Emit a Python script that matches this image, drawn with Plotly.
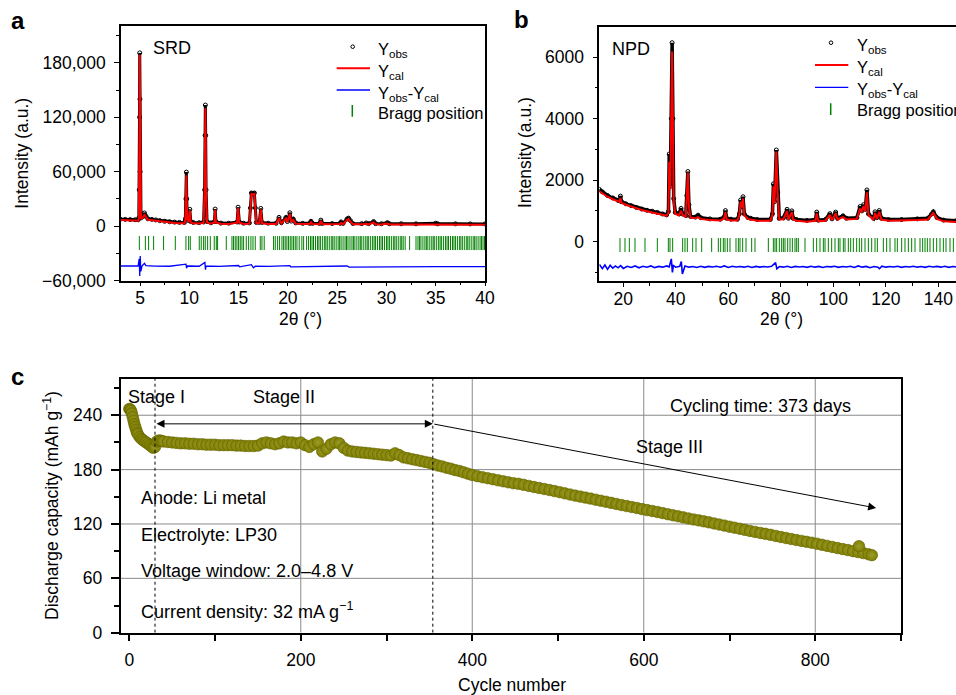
import plotly.graph_objects as go

W, H = 956, 695
FONT = "Liberation Sans, Arial, Helvetica, sans-serif"

# ---------------- Panel a: SRD ----------------
srd_x = [3.0, 3.5, 4.0, 4.5, 4.8, 4.88, 4.92, 4.95, 4.97, 4.99,
         5.01, 5.04, 5.1, 5.3, 5.45, 5.6, 5.8, 6.2, 6.6, 7.0,
         7.5, 8.0, 8.5, 9.0, 9.5, 9.6, 9.66, 9.7, 9.74, 9.8,
         9.95, 10.05, 10.15, 10.4, 11.0, 11.45, 11.55, 11.6, 11.63, 11.66,
         11.7, 11.8, 12.2, 12.55, 12.62, 12.7, 13.2, 14.0, 14.85, 14.95,
         15.08, 15.5, 16.1, 16.2, 16.3, 16.45, 16.6, 16.7, 16.8, 17.1,
         17.25, 17.38, 18.0, 18.8, 19.1, 19.35, 19.8, 19.95, 20.2, 20.35,
         20.55, 20.8, 21.5, 22.2, 22.35, 22.5, 23.2, 23.35, 23.5, 24.5,
         25.3, 25.4, 25.6, 26.0, 26.15, 26.35, 26.6, 27.5, 27.95, 28.2,
         28.7, 28.9, 29.5, 30.1, 30.3, 31.5, 33.0, 35.0, 35.2, 37.0,
         38.5, 40.0]
srd_obs = [7600, 7400, 7200, 7000, 6900, 9000, 40000, 120000, 191000, 140000,
           60000, 15000, 9000, 10500, 14500, 11000, 8000, 7400, 6800, 6000,
           5300, 4800, 4400, 4100, 4000, 8000, 30000, 59500, 30000, 8000,
           6000, 18500, 5000, 4000, 3800, 4500, 40000, 100000, 133500, 100000,
           40000, 5000, 3600, 5000, 18800, 5000, 3300, 3200, 4500, 20800,
           4500, 3200, 3500, 20000, 36500, 36000, 36500, 20000, 4000, 4000,
           19500, 4000, 3200, 3100, 9600, 3800, 9500, 5000, 14700, 5500,
           7800, 3500, 3000, 3000, 5300, 3000, 2900, 6600, 2900, 2800,
           3000, 4600, 3000, 7800, 8800, 6000, 2800, 2700, 3500, 2700,
           5000, 2700, 2600, 3800, 2600, 2600, 2500, 3200, 2500, 2500,
           2400, 2400]
srd_cal = [6700, 6500, 6300, 6100, 6000, 8000, 38000, 118000, 189000, 138000,
           58000, 13000, 8000, 9500, 13000, 10000, 7000, 6400, 5800, 5000,
           4300, 3800, 3400, 3100, 3000, 7000, 28000, 56000, 28000, 7000,
           5000, 17500, 4000, 3000, 2800, 3500, 38000, 98000, 130000, 98000,
           38000, 4000, 2600, 4000, 18000, 4000, 2500, 2400, 3700, 20000,
           3700, 2400, 2700, 19000, 35500, 35000, 35500, 19000, 3200, 3200,
           18500, 3200, 2400, 2300, 8600, 3000, 8500, 4200, 13500, 4700,
           6800, 2700, 2200, 2200, 4300, 2200, 2100, 5600, 2100, 2000,
           2200, 3600, 2200, 6800, 7800, 5000, 2000, 1900, 2600, 1900,
           4000, 1900, 1800, 2800, 1800, 1800, 1700, 2300, 1700, 1700,
           1600, 1600]
srd_diff_x = [3.0, 4.0, 4.8, 4.92, 4.97, 5.02, 5.08, 5.2, 5.45, 5.6,
              6.5, 8.0, 9.66, 9.72, 9.8, 11.0, 11.58, 11.64, 11.7, 13.0,
              15.0, 15.1, 16.3, 16.5, 16.7, 18.0, 20.2, 20.3, 22.0, 26.0,
              26.2, 30.0, 35.0, 40.0]
srd_diff_y = [-44000, -44300, -44000, -36000, -55000, -33000, -50000, -44000, -41000, -43500,
              -44200, -44300, -42000, -46500, -44000, -44300, -40000, -48000, -44000, -44500,
              -43500, -45000, -42500, -46000, -44200, -44500, -43500, -45000, -44600, -44000,
              -45200, -44700, -44700, -44800]
srd_bragg = [4.93, 5.54, 5.87, 6.38, 7.39, 8.58, 9.66, 9.93, 10.1, 11.01,
             11.21, 11.45, 11.62, 11.86, 12.13, 12.53, 12.74, 12.87, 13.75, 14.33,
             14.49, 14.66, 14.83, 15.0, 15.17, 15.34, 15.51, 15.78, 16.02, 16.25,
             16.46, 16.69, 17.2, 17.37, 17.6, 18.55, 18.72, 18.96, 19.16, 19.4,
             19.57, 19.73, 19.9, 20.07, 20.24, 20.41, 20.58, 20.75, 20.92, 21.15,
             21.42, 21.6, 21.9, 22.1, 22.3, 22.45, 22.6, 22.8, 23.0, 23.15,
             23.3, 23.5, 23.7, 23.85, 24.0, 24.2, 24.4, 24.55, 24.7, 24.9,
             25.1, 25.25, 25.4, 25.6, 25.8, 25.95, 26.1, 26.3, 26.5, 26.65,
             26.8, 27.0, 27.2, 27.35, 27.5, 27.7, 27.9, 28.05, 28.2, 28.4,
             28.6, 28.75, 28.9, 29.1, 29.3, 29.45, 29.6, 29.8, 30.0, 30.15,
             30.3, 30.5, 30.7, 30.85, 31.0, 31.2, 31.4, 31.55, 31.7, 31.9,
             32.35, 33.0, 33.2, 33.35, 33.5, 33.7, 33.9, 34.05, 34.2, 34.4,
             34.6, 34.75, 34.9, 35.1, 35.3, 35.45, 35.6, 35.8, 36.0, 36.15,
             36.3, 36.5, 36.7, 36.85, 37.0, 37.2, 37.4, 37.55, 37.7, 37.9,
             38.1, 38.25, 38.4, 38.6, 38.8, 38.95, 39.1, 39.3, 39.5, 39.65,
             39.8, 39.95]
srd_bragg_level = -18700
srd_yticks = [-60000, 0, 60000, 120000, 180000]
srd_yticktext = ["\u221260,000", "0", "60,000", "120,000", "180,000"]
srd_xticks = [5, 10, 15, 20, 25, 30, 35, 40]

# ---------------- Panel b: NPD ----------------
npd_x = [10.86, 12, 14, 16, 18, 18.6, 18.9, 19.3, 21, 23,
         25, 27, 29, 31, 33, 35, 36.5, 37.2, 37.5, 37.9,
         38.3, 38.6, 38.9, 39.2, 39.8, 41.2, 42.0, 42.6, 43.8, 44.2,
         44.6, 45.0, 45.6, 47.5, 48.5, 49.5, 53, 57, 58.4, 58.9,
         59.4, 61, 63.5, 64.2, 64.7, 65.1, 65.6, 66.1, 67.5, 68.5,
         71, 76, 76.8, 77.2, 77.6, 78.3, 78.8, 79.4, 81, 82.4,
         82.9, 84.2, 84.7, 86, 90, 93.2, 93.7, 94.3, 97, 98.7,
         99.5, 100.9, 101.6, 103.7, 105, 109, 110.2, 110.9, 111.5, 112.2,
         112.8, 113.4, 115.3, 115.9, 116.6, 117.5, 118.3, 121, 126, 132,
         136, 137.5, 138.1, 139.5, 142, 146.74]
npd_obs = [1700, 1620, 1500, 1420, 1340, 1330, 1480, 1300, 1230, 1170,
           1110, 1060, 1020, 990, 950, 900, 870, 980, 2850, 1800,
           4000, 6470, 4000, 1400, 950, 900, 1080, 900, 850, 1500,
           2280, 1200, 820, 800, 860, 780, 740, 730, 800, 1010,
           760, 730, 730, 900, 1350, 1150, 1460, 900, 780, 760,
           720, 720, 900, 1880, 1300, 2980, 1600, 760, 770, 1050,
           760, 1000, 760, 720, 690, 720, 960, 700, 720, 910,
           740, 960, 760, 840, 760, 780, 1140, 1000, 1200, 1050,
           1680, 900, 760, 970, 780, 1010, 760, 720, 720, 740,
           760, 900, 970, 780, 700, 680]
npd_cal = [1640, 1570, 1460, 1380, 1300, 1290, 1420, 1260, 1200, 1140,
           1080, 1030, 990, 950, 910, 870, 840, 940, 2600, 1700,
           3900, 6180, 3900, 1300, 900, 860, 1000, 860, 810, 1450,
           2250, 1150, 780, 760, 800, 740, 700, 690, 760, 960,
           720, 690, 690, 860, 1300, 1120, 1400, 860, 740, 720,
           680, 680, 860, 1800, 1250, 2930, 1550, 720, 730, 1000,
           720, 960, 720, 680, 650, 680, 920, 660, 680, 870,
           700, 920, 720, 800, 720, 740, 1080, 960, 1150, 1000,
           1600, 860, 720, 930, 740, 970, 720, 680, 680, 700,
           720, 860, 930, 740, 660, 640]
npd_diff_x = [10.9, 12, 13, 14, 15, 16, 17, 18, 19, 20,
              21.5, 23, 24.5, 26, 27.5, 29, 30.5, 32, 33.5, 35,
              36.5, 37.5, 38.3, 38.7, 39.1, 40, 41.5, 42.1, 42.5, 43.5,
              45, 46.5, 48, 49.5, 51, 52.5, 54, 55.5, 57, 58.5,
              60, 61.5, 63, 64.5, 66, 67.5, 69, 70.5, 72, 73.5,
              75, 76.5, 78, 78.5, 79.5, 81, 82.5, 84, 85.5, 87,
              88.5, 90, 91.5, 93, 94.5, 96, 97.5, 99, 100.5, 102,
              103.5, 105, 106.5, 108, 109.5, 111, 112.5, 114, 115.5, 117,
              117.6, 118.5, 120, 121.5, 123, 124.5, 126, 127.5, 129, 130.5,
              132, 133.5, 135, 136.5, 138, 139.5, 141, 142.5, 144, 145.5,
              146.7]
npd_diff_y = [-740, -880, -760, -900, -770, -860, -790, -850, -780, -870,
              -800, -840, -790, -850, -800, -830, -790, -845, -805, -830,
              -790, -820, -560, -1000, -780, -830, -800, -650, -1050, -790,
              -830, -810, -840, -800, -835, -805, -825, -800, -830, -790,
              -840, -800, -825, -810, -830, -800, -840, -805, -830, -810,
              -825, -800, -680, -880, -810, -830, -800, -840, -805, -825,
              -810, -835, -800, -830, -805, -840, -810, -820, -800, -835,
              -810, -825, -800, -840, -790, -830, -805, -850, -810, -830,
              -880, -800, -830, -810, -825, -800, -835, -810, -825, -800,
              -830, -810, -835, -800, -825, -805, -830, -800, -835, -810,
              -820]
npd_bragg = [18.74, 20.65, 22.3, 24.46, 28.27, 32.97, 37.16, 37.79, 38.81, 42.62,
             43.5, 44.39, 46.43, 47.7, 49.86, 53.66, 56.2, 57.09, 58.11, 58.74,
             59.63, 60.65, 62.93, 63.82, 64.46, 65.47, 66.74, 68.9, 70.17, 75.25,
             77.16, 77.79, 78.42, 79.44, 80.33, 80.97, 81.6, 82.62, 83.51, 84.4,
             85.41, 86.05, 86.68, 89.22, 92.39, 93.66, 94.93, 96.2, 96.84, 98.11,
             99.38, 100.65, 101.92, 102.55, 103.82, 104.46, 105.73, 106.62, 107.63, 108.9,
             109.92, 110.81, 112.08, 113.35, 114.62, 115.89, 116.78, 119.06, 120.33, 121.6,
             123.5, 124.39, 126.04, 127.31, 128.58, 129.85, 131.12, 133.03, 134.04, 134.93,
             135.82, 136.84, 138.11, 139.38, 140.65, 141.92, 142.93, 144.46, 145.73]
npd_bragg_level = -110
npd_yticks = [0, 2000, 4000, 6000]
npd_xticks = [20, 40, 60, 80, 100, 120, 140]

# ---------------- Panel c: cycling ----------------
cyc_early = [0, 1, 2, 3, 4, 5, 6, 7, 8, 9, 10, 12, 14, 16, 18, 20, 22, 24, 26, 28,
             30, 32, 34, 36, 38, 40]
cap_early = [247, 246.5, 245, 242, 238, 234, 230, 227, 224, 221, 219, 216, 214, 212.5, 211,
             210, 208.5, 207, 205.5, 204, 205, 211, 212, 212, 211.5, 211]
cyc_mid = list(range(45, 401, 5))
cap_mid = [210.5, 210, 209.5, 209, 209, 208.5, 208.5, 208, 208, 207.5,
           207.5, 207.5, 207, 207, 207, 207, 206.5, 206.5, 206, 206,
           206, 206.5, 209, 210, 209, 208, 209, 211, 210, 210,
           209, 210, 207, 205, 208, 210, 200, 203, 208, 210,
           209, 204, 201, 200, 199.5, 199, 198.5, 198, 197.5, 197,
           196.5, 196, 195.5, 198, 196, 193.5, 192.5, 191.5, 190.5, 189.5,
           188.5, 187.5, 186, 184.5, 183.5, 182, 181, 179.5, 178.5, 177,
           175.5, 174]
cyc_late = list(range(406, 863, 6)) + [866, 851]
cap_late = [172.8, 171.6, 170.5, 169.4, 168.2, 167.1, 166, 165, 164.3, 163.2,
            162, 160.8, 159.7, 158.6, 157.5, 156.3, 155.1, 153.8, 152.5, 151.3,
            150.2, 149.1, 148, 146.8, 145.6, 144.5, 143.3, 142.1, 140.9, 139.8,
            138.7, 137.6, 136.4, 135.3, 134.3, 133.2, 132, 130.8, 129.6, 128.5,
            127.3, 126.1, 125, 124, 122.9, 121.8, 120.6, 119.4, 118.2, 117,
            115.9, 114.7, 113.5, 112.3, 111.2, 110.1, 109.1, 108, 106.8, 105.6,
            104.5, 103.4, 102.3, 101.3, 100.3, 99.3, 98.2, 97, 95.8, 94.6,
            93.4, 92.3, 91.2, 90, 89, 87.9, 86.6, 85.6, 95.5]
stage_bounds = [30, 354]
arrow_y = 230.5
arrow_end = (871, 137.6)
c_xticks = [0, 200, 400, 600, 800]
c_yticks = [0, 60, 120, 180, 240]

for a, b in [(srd_x, srd_obs), (srd_x, srd_cal), (srd_diff_x, srd_diff_y),
             (npd_x, npd_obs), (npd_x, npd_cal), (npd_diff_x, npd_diff_y),
             (cyc_early, cap_early), (cyc_mid, cap_mid), (cyc_late, cap_late)]:
    assert len(a) == len(b), (len(a), len(b))

cycles = cyc_early + cyc_mid + cyc_late
capacity = cap_early + cap_mid + cap_late


def fx(px):
    return px / W


def fy(py):
    return 1 - py / H


fig = go.Figure()

# panel a traces
fig.add_trace(go.Scatter(x=srd_x, y=srd_obs, mode="lines+markers", xaxis="x", yaxis="y",
                         line=dict(color="black", width=3),
                         marker=dict(symbol="circle-open", size=4, color="black", line=dict(width=1))))
fig.add_trace(go.Scatter(x=srd_x, y=srd_cal, mode="lines", xaxis="x", yaxis="y",
                         line=dict(color="#ff0000", width=2)))
fig.add_trace(go.Scatter(x=srd_diff_x, y=srd_diff_y, mode="lines", xaxis="x", yaxis="y",
                         line=dict(color="#0000ff", width=1.3)))
fig.add_trace(go.Scatter(x=srd_bragg, y=[srd_bragg_level] * len(srd_bragg), mode="markers",
                         xaxis="x", yaxis="y",
                         marker=dict(symbol="line-ns", size=10, line=dict(width=1, color="#008000"))))

# panel b traces
fig.add_trace(go.Scatter(x=npd_x, y=npd_obs, mode="lines+markers", xaxis="x2", yaxis="y2",
                         line=dict(color="black", width=3.5),
                         marker=dict(symbol="circle-open", size=4, color="black", line=dict(width=1))))
fig.add_trace(go.Scatter(x=npd_x, y=npd_cal, mode="lines", xaxis="x2", yaxis="y2",
                         line=dict(color="#ff0000", width=2)))
fig.add_trace(go.Scatter(x=npd_diff_x, y=npd_diff_y, mode="lines", xaxis="x2", yaxis="y2",
                         line=dict(color="#0000ff", width=1.6)))
fig.add_trace(go.Scatter(x=npd_bragg, y=[npd_bragg_level] * len(npd_bragg), mode="markers",
                         xaxis="x2", yaxis="y2",
                         marker=dict(symbol="line-ns", size=10, line=dict(width=1, color="#008000"))))

# panel c trace
fig.add_trace(go.Scatter(x=cycles, y=capacity, mode="markers", xaxis="x3", yaxis="y3",
                         marker=dict(size=11.5, color="#808000",
                                     gradient=dict(type="radial", color="#9c9c30"),
                                     line=dict(width=0.6, color="#626200"))))

tickfont = dict(family=FONT, size=17.5, color="black")
common = dict(showgrid=False, zeroline=False, showline=True, linecolor="black",
              ticks="outside", tickcolor="black", tickfont=tickfont, automargin=False)

fig.update_layout(
    width=W, height=H, margin=dict(l=0, r=0, t=0, b=0, autoexpand=False),
    paper_bgcolor="white", plot_bgcolor="white", showlegend=False,
    font=dict(family=FONT, size=17, color="black"),
    xaxis=dict(domain=[fx(121), fx(485)], range=[3.07, 40], tickvals=srd_xticks,
               linewidth=1.5, mirror=True, ticklen=4, tickwidth=1.2, anchor="y",
               minor=dict(dtick=2.5, tick0=0, ticks="outside", ticklen=3, tickcolor="black"),
               ticklabelstandoff=-3, **common),
    yaxis=dict(domain=[fy(280.5), fy(25.7)], range=[-60000, 221000], tickvals=srd_yticks,
               ticktext=srd_yticktext, linewidth=1.5, mirror=True, ticklen=5, tickwidth=1.2,
               anchor="x", ticklabelstandoff=5,
               minor=dict(dtick=30000, tick0=0, ticks="outside", ticklen=3, tickcolor="black"),
               **common),
    xaxis2=dict(domain=[fx(599.3), 1.0], range=[10.86, 146.74], tickvals=npd_xticks,
                linewidth=1.5, mirror=True, ticklen=4, tickwidth=1.2, anchor="y2",
                minor=dict(dtick=10, tick0=0, ticks="outside", ticklen=3, tickcolor="black"),
                ticklabelstandoff=-3, **common),
    yaxis2=dict(domain=[fy(281), fy(26.7)], range=[-1280, 6990], tickvals=npd_yticks,
                linewidth=1.5, mirror=False, ticklen=5, tickwidth=1.2, anchor="x2",
                ticklabelstandoff=5,
                minor=dict(dtick=1000, tick0=0, ticks="outside", ticklen=3, tickcolor="black"),
                **common),
    xaxis3=dict(domain=[fx(120.7), fx(901)], range=[-10, 900], tickvals=c_xticks,
                linewidth=2, mirror=True, ticklen=6, tickwidth=2, anchor="y3",
                ticklabelstandoff=4,
                minor=dict(dtick=100, tick0=0, ticks="outside", ticklen=6, tickwidth=2,
                           tickcolor="black"),
                **common),
    yaxis3=dict(domain=[fy(632.7), fy(379)], range=[0, 280], tickvals=c_yticks,
                linewidth=2, mirror=True, ticklen=8, tickwidth=2, anchor="x3",
                ticklabelstandoff=5,
                minor=dict(dtick=30, tick0=0, ticks="outside", ticklen=5, tickwidth=2,
                           tickcolor="black"),
                **common),
)

shapes = []
# panel c gridlines (below)
for v in c_xticks[1:]:
    shapes.append(dict(type="line", xref="x3", yref="y3", x0=v, x1=v, y0=0, y1=280,
                       line=dict(color="#8a8a8a", width=1), layer="below"))
for v in c_yticks[1:]:
    shapes.append(dict(type="line", xref="x3", yref="y3", x0=-10, x1=900, y0=v, y1=v,
                       line=dict(color="#8a8a8a", width=1), layer="below"))
# white boxes behind text (break gridlines)
for (x0, y0, x1, y1) in [(137, 482, 305, 512), (137, 522, 315, 550), (137, 558, 408, 585),
                         (137, 597, 362, 625), (657, 380, 892, 420), (630, 437, 708, 456)]:
    shapes.append(dict(type="rect", xref="paper", yref="paper", x0=fx(x0), x1=fx(x1),
                       y0=fy(y1), y1=fy(y0), fillcolor="white", line=dict(width=0),
                       layer="below"))
# stage separators (dotted)
for v in stage_bounds:
    shapes.append(dict(type="line", xref="x3", yref="y3", x0=v, x1=v, y0=0, y1=280,
                       line=dict(color="black", width=1, dash="dot"), layer="above"))


# legends (manual)
def legend(shp, ann, cx, cy_marker, lx0, lx1, y_red, y_blue, bx, by0, by1, tx, tys):
    shp.append(dict(type="circle", xref="paper", yref="paper",
                    x0=fx(cx - 1.8), x1=fx(cx + 1.8), y0=fy(cy_marker + 1.8), y1=fy(cy_marker - 1.8),
                    line=dict(color="black", width=1)))
    shp.append(dict(type="line", xref="paper", yref="paper", x0=fx(lx0), x1=fx(lx1),
                    y0=fy(y_red), y1=fy(y_red), line=dict(color="#ff0000", width=2)))
    shp.append(dict(type="line", xref="paper", yref="paper", x0=fx(lx0), x1=fx(lx1),
                    y0=fy(y_blue), y1=fy(y_blue), line=dict(color="#0000ff", width=1.3)))
    shp.append(dict(type="line", xref="paper", yref="paper", x0=fx(bx), x1=fx(bx),
                    y0=fy(by1), y1=fy(by0), line=dict(color="#008000", width=1.5)))
    labels = ["Y<sub>obs</sub>", "Y<sub>cal</sub>", "Y<sub>obs</sub>-Y<sub>cal</sub>", "Bragg position"]
    for lab, ty in zip(labels, tys):
        ann.append(dict(text=lab, xref="paper", yref="paper", x=fx(tx), y=fy(ty),
                        xanchor="left", yanchor="middle", showarrow=False,
                        font=dict(family=FONT, size=16.5, color="black")))


annotations = []
legend(shapes, annotations, 352.7, 46.7, 336.7, 370, 68.3, 90, 352.3, 105, 116.7, 376,
       [50, 72, 94, 113])
legend(shapes, annotations, 831, 42.7, 815, 848.3, 65, 87.3, 830.7, 103.3, 115, 855,
       [46, 68, 90, 110])


def txt(s, x, y, size=17, xanchor="left", bold=False, angle=0):
    annotations.append(dict(text=("<b>%s</b>" % s) if bold else s, xref="paper", yref="paper",
                            x=fx(x), y=fy(y), xanchor=xanchor, yanchor="middle",
                            showarrow=False, textangle=angle,
                            font=dict(family=FONT, size=size, color="black")))


# panel labels
txt("a", 17.8, 21, size=24, xanchor="center", bold=True)
txt("b", 521.7, 19, size=24, xanchor="center", bold=True)
txt("c", 17.8, 376, size=24, xanchor="center", bold=True)
# in-plot labels
txt("SRD", 151, 48, size=18)
txt("NPD", 610, 49, size=18)
# axis titles
txt("Intensity (a.u.)", 21.7, 153, size=17.5, xanchor="center", angle=-90)
txt("Intensity (a.u.)", 525, 153, size=17.5, xanchor="center", angle=-90)
txt("2\u03b8 (\u00b0)", 300, 319, size=17.5, xanchor="center")
txt("2\u03b8 (\u00b0)", 781.7, 319, size=17.5, xanchor="center")
txt("Cycle number", 512, 685, size=17.5, xanchor="center")
txt("Discharge capacity (mAh g<sup>\u22121</sup>)", 51, 506, size=17.5, xanchor="center", angle=-90)
# panel c text
txt("Stage I", 126, 397, size=18)
txt("Stage II", 251, 397, size=18)
txt("Stage III", 634, 447, size=18)
txt("Cycling time: 373 days", 668, 406, size=18)
txt("Anode: Li metal", 139, 498, size=18)
txt("Electrolyte: LP30", 139, 535, size=18)
txt("Voltage window: 2.0\u20134.8 V", 139, 571, size=18)
txt("Current density: 32 mA g<sup>\u22121</sup>", 139, 610, size=18)

# arrows
annotations.append(dict(x=stage_bounds[1], y=arrow_y, ax=stage_bounds[0], ay=arrow_y,
                        xref="x3", yref="y3", axref="x3", ayref="y3", text="", showarrow=True,
                        arrowhead=2, arrowside="end+start", arrowsize=1.6, arrowwidth=1,
                        arrowcolor="black", standoff=0, startstandoff=0))
annotations.append(dict(x=arrow_end[0], y=arrow_end[1], ax=stage_bounds[1], ay=arrow_y,
                        xref="x3", yref="y3", axref="x3", ayref="y3", text="", showarrow=True,
                        arrowhead=2, arrowsize=1.6, arrowwidth=1, arrowcolor="black",
                        standoff=0))

fig.update_layout(shapes=shapes, annotations=annotations)
fig.write_html("out.html", config={"displayModeBar": False},
               post_script="document.body.style.margin='0px';document.body.style.padding='0px';")
